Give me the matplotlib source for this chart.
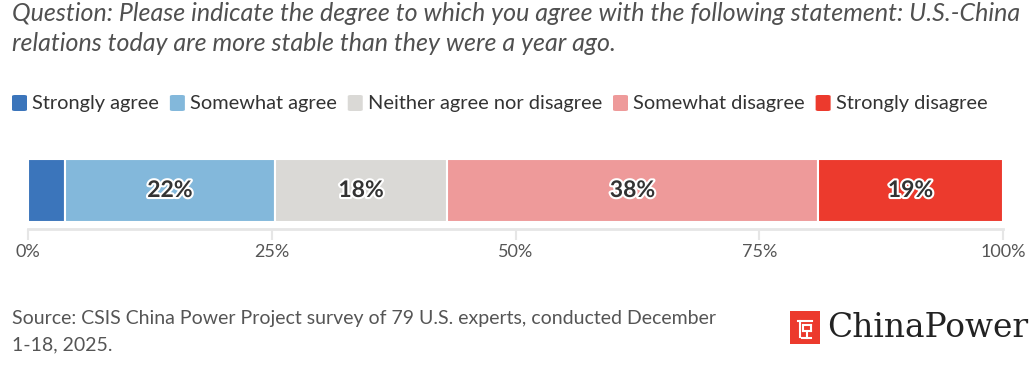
import matplotlib
matplotlib.use("Agg")
import matplotlib.pyplot as plt
from matplotlib.patches import FancyBboxPatch, Rectangle
import matplotlib.patheffects as pe

categories = ["Strongly agree", "Somewhat agree", "Neither agree nor disagree",
              "Somewhat disagree", "Strongly disagree"]
values = [3.8, 21.5, 17.7, 38.0, 19.0]
colors = ["#3b75bb", "#83b8db", "#dad9d6", "#ee9a9a", "#ec3a2d"]
tick_vals = [0, 25, 50, 75, 100]
tick_labels = ["0%", "25%", "50%", "75%", "100%"]
title = ("Question: Please indicate the degree to which you agree with the following statement: U.S.-China\n"
         "relations today are more stable than they were a year ago.")
source = "Source: CSIS China Power Project survey of 79 U.S. experts, conducted December\n1-18, 2025."

FONT = "Lato"
W, H = 1032, 372
fig = plt.figure(figsize=(W / 100, H / 100), dpi=100)

def fx(px):
    return px / W

def fy(py):
    return 1 - py / H

# Title
fig.text(fx(12), fy(21), title.split("\n")[0], ha="left", va="baseline", fontsize=18,
         style="italic", color="#505050", family=FONT)
fig.text(fx(12), fy(51), title.split("\n")[1], ha="left", va="baseline", fontsize=18,
         style="italic", color="#505050", family=FONT)

# Legend
fig.canvas.draw()
renderer = fig.canvas.get_renderer()
x = 12
ly = 103
for cat, col in zip(categories, colors):
    sq = FancyBboxPatch((fx(x), fy(ly + 8)), fx(15), 16 / H,
                        boxstyle="round,pad=0,rounding_size=0.003",
                        transform=fig.transFigure, facecolor=col, edgecolor="none")
    fig.patches.append(sq)
    t = fig.text(fx(x + 20), fy(ly), cat, ha="left", va="center", fontsize=14.4,
                 color="#333333", family=FONT)
    bb = t.get_window_extent(renderer)
    x = x + 20 + bb.width + 11

# Axes
ax_left, ax_right = 28, 1003
ax_top, ax_bottom = 159, 229
ax = fig.add_axes([fx(ax_left), fy(ax_bottom), fx(ax_right - ax_left),
                   (ax_bottom - ax_top) / H])
left = 0
for v, col in zip(values, colors):
    ax.barh(0.55, v, left=left, height=0.9, color=col, edgecolor="white", linewidth=1.5)
    if v >= 5:
        ax.text(left + v / 2, 0.55, f"{round(v)}%", ha="center", va="center",
                fontsize=16.5, fontweight="bold", color="#333333", family=FONT,
                path_effects=[pe.withStroke(linewidth=3, foreground="white")])
    left += v
ax.set_xlim(0, 100)
ax.set_ylim(0.0, 1.0)
ax.set_yticks([])
ax.set_xticks(tick_vals)
ax.set_xticklabels(tick_labels, family=FONT, fontsize=13, color="#555555")
for s in ["top", "right", "left"]:
    ax.spines[s].set_visible(False)
ax.spines["bottom"].set_color("#e6e6e6")
ax.spines["bottom"].set_linewidth(2)
ax.tick_params(axis="x", length=8, width=1.5, color="#e6e6e6", pad=3)
ax.patch.set_alpha(0)

# Source
src_lines = source.split("\n")
fig.text(fx(12), fy(324), src_lines[0], ha="left", va="baseline", fontsize=14,
         color="#555555", family=FONT)
fig.text(fx(12), fy(350), src_lines[1], ha="left", va="baseline", fontsize=14,
         color="#555555", family=FONT)

# Logo
fig.patches.append(Rectangle((fx(790), fy(344)), fx(30), 33 / H,
                             transform=fig.transFigure, facecolor="#ec3a2d",
                             edgecolor="none"))
lw = 1.5
segs = [((798, 812), (321, 321)),   # top bar
        ((800, 800), (321, 337)),   # left vertical
        ((803, 811), (325, 325)),   # box top
        ((811, 811), (325, 331)),   # box right
        ((803, 811), (331, 331)),   # box bottom
        ((803, 803), (325, 331)),   # box left
        ((806.5, 806.5), (331, 338)),  # stem
        ((802, 811), (338, 338))]   # base
for xs, ys in segs:
    fig.add_artist(plt.Line2D([fx(xs[0]), fx(xs[1])], [fy(ys[0]), fy(ys[1])],
                              transform=fig.transFigure, color="white", lw=lw,
                              solid_capstyle="projecting"))
fig.text(fx(827), fy(328), "ChinaPower", ha="left", va="center", fontsize=23.7,
         color="#222222", family="DejaVu Serif")

fig.savefig("out.png", dpi=100)
